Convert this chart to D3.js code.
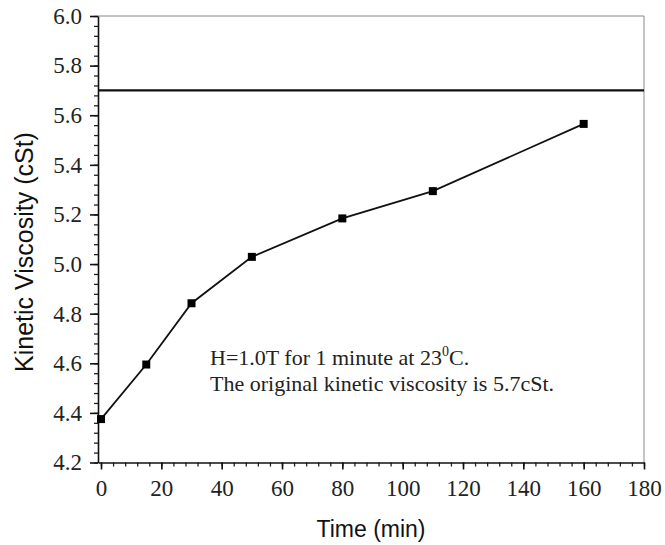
<!DOCTYPE html>
<html>
<head>
<meta charset="utf-8">
<script src="https://cdn.jsdelivr.net/npm/d3@7"></script>
<style>
body { margin:0; background:#fff; }
</style>
</head>
<body>
<svg id="chart"></svg>
<script>
//measured data
var times = [0, 15, 30, 50, 80, 110, 160];
var viscosity = [4.375, 4.595, 4.842, 5.029, 5.184, 5.294, 5.565];
var originalViscosity = 5.7;

var xTicks = [0, 20, 40, 60, 80, 100, 120, 140, 160, 180];
var yTicks = [4.2, 4.4, 4.6, 4.8, 5.0, 5.2, 5.4, 5.6, 5.8, 6.0];
var xMinorTicks = d3.range(0, 181, 4);
var yMinorTicks = d3.range(0, 46).map(function(i){ return 4.2 + i*0.04; });

var noteLine1 = "H=1.0T for 1 minute at 23";
var noteLine2 = "The original kinetic viscosity is 5.7cSt.";

var serif = "'Liberation Serif', 'Times New Roman', serif";
var sans = "'Liberation Sans', Arial, sans-serif";

var screen = {width:665, height:545};
var plot = {left:98, right:644, top:16, bottom:462.5};

var svg = d3.select("#chart")
    .attr("width", screen.width)
    .attr("height", screen.height);

var xScale = d3.scaleLinear()
    .domain([-1, 180])
    .range([plot.left, plot.right]);

var yScale = d3.scaleLinear()
    .domain([4.2, 6.0])
    .range([plot.bottom, plot.top]);

//frame on top and right
svg.append("line")
    .attr("x1", plot.left).attr("x2", plot.right)
    .attr("y1", plot.top).attr("y2", plot.top)
    .attr("stroke", "#888").attr("stroke-width", 1);
svg.append("line")
    .attr("x1", plot.right).attr("x2", plot.right)
    .attr("y1", plot.top).attr("y2", plot.bottom)
    .attr("stroke", "#888").attr("stroke-width", 1);

//minor ticks
svg.append("g")
    .attr("transform", "translate(0," + plot.bottom + ")")
    .call(d3.axisBottom(xScale).tickValues(xMinorTicks).tickSize(4).tickSizeOuter(0).tickFormat(""))
    .call(function(g){ g.select(".domain").remove(); })
    .selectAll("line").attr("stroke", "#222").attr("stroke-width", 1.3);

svg.append("g")
    .attr("transform", "translate(" + plot.left + ",0)")
    .call(d3.axisLeft(yScale).tickValues(yMinorTicks).tickSize(4).tickSizeOuter(0).tickFormat(""))
    .call(function(g){ g.select(".domain").remove(); })
    .selectAll("line").attr("stroke", "#222").attr("stroke-width", 1.3);

//major axes
var xAxis = svg.append("g")
    .attr("transform", "translate(0," + plot.bottom + ")")
    .call(d3.axisBottom(xScale).tickValues(xTicks).tickSize(7).tickSizeOuter(0).tickPadding(10));

var yAxis = svg.append("g")
    .attr("transform", "translate(" + plot.left + ",0)")
    .call(d3.axisLeft(yScale).tickValues(yTicks).tickSize(8).tickSizeOuter(0).tickPadding(8)
        .tickFormat(d3.format(".1f")));

[xAxis, yAxis].forEach(function(ax)
{
    ax.attr("font-family", serif);
    ax.select(".domain").attr("stroke", "#111").attr("stroke-width", 1.6);
    ax.selectAll(".tick line").attr("stroke", "#111").attr("stroke-width", 1.6);
    ax.selectAll(".tick text")
        .attr("font-family", serif)
        .attr("font-size", 23)
        .attr("fill", "#222");
});
xAxis.selectAll(".tick text").attr("dy", "0.72em");

//reference line for original viscosity
svg.append("line")
    .attr("x1", plot.left).attr("x2", plot.right)
    .attr("y1", yScale(originalViscosity)).attr("y2", yScale(originalViscosity))
    .attr("stroke", "#111").attr("stroke-width", 2.2);

//data line and markers
var points = times.map(function(t, i){ return {t:t, v:viscosity[i]}; });

var line = d3.line()
    .x(function(d){ return xScale(d.t); })
    .y(function(d){ return yScale(d.v); });

svg.append("path")
    .datum(points)
    .attr("d", line)
    .attr("fill", "none")
    .attr("stroke", "#111")
    .attr("stroke-width", 1.8);

var size = 8;
svg.selectAll("rect.marker")
    .data(points)
    .enter()
    .append("rect")
    .classed("marker", true)
    .attr("x", function(d){ return xScale(d.t) - size/2; })
    .attr("y", function(d){ return yScale(d.v) - size/2; })
    .attr("width", size)
    .attr("height", size)
    .attr("fill", "#000");

//annotation
var note = svg.append("g")
    .attr("font-family", serif)
    .attr("font-size", 22)
    .attr("fill", "#222");

var t1 = note.append("text").attr("x", 210).attr("y", 365).text(noteLine1);
t1.append("tspan").attr("font-size", 14).attr("dy", -9).text("0");
t1.append("tspan").attr("dy", 9).text("C.");

note.append("text").attr("x", 210).attr("y", 391).text(noteLine2);

//axis titles
svg.append("text")
    .attr("x", 371)
    .attr("y", 537)
    .attr("text-anchor", "middle")
    .attr("font-family", sans)
    .attr("font-size", 23)
    .attr("fill", "#111")
    .text("Time (min)");

svg.append("text")
    .attr("transform", "translate(33,252) rotate(-90)")
    .attr("text-anchor", "middle")
    .attr("font-family", sans)
    .attr("font-size", 25)
    .attr("fill", "#111")
    .text("Kinetic Viscosity (cSt)");
</script>
</body>
</html>
